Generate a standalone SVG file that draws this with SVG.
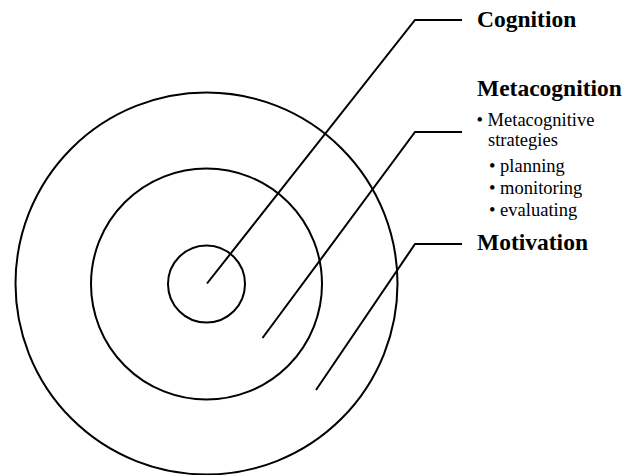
<svg xmlns="http://www.w3.org/2000/svg" width="629" height="475" viewBox="0 0 629 475">
<style>
.ring{fill:none;stroke:#000;stroke-width:2}
.con{fill:none;stroke:#000;stroke-width:2;stroke-linejoin:miter}
.h{font-family:"Liberation Serif","Times New Roman",serif;font-weight:bold;font-size:23.5px;fill:#000}
.b{font-family:"Liberation Serif","Times New Roman",serif;font-size:18.5px;fill:#000}
</style>
<rect width="629" height="475" fill="#fff"/>
<g id="motivation-ring"><circle class="ring" cx="206.5" cy="283.5" r="191"/></g>
<g id="metacognition-ring"><circle class="ring" cx="206.5" cy="284" r="115.5"/></g>
<g id="cognition-ring"><circle class="ring" cx="206.5" cy="284" r="38.5"/></g>
<g id="connectors">
<polyline class="con" points="207,283.5 415,20 462,20"/>
<polyline class="con" points="262.5,338 415,132 462,132"/>
<polyline class="con" points="316,390 415,244 462,244"/>
</g>
<g id="cognition-label"><text class="h" x="477" y="27">Cognition</text></g>
<g id="metacognition-label">
<text class="h" x="477" y="96">Metacognition</text>
<text class="b" x="476.5" y="126">• Metacognitive</text>
<text class="b" x="488" y="146">strategies</text>
<text class="b" x="489" y="172">• planning</text>
<text class="b" x="489" y="194">• monitoring</text>
<text class="b" x="489" y="216">• evaluating</text>
</g>
<g id="motivation-label"><text class="h" x="477" y="250">Motivation</text></g>
</svg>
